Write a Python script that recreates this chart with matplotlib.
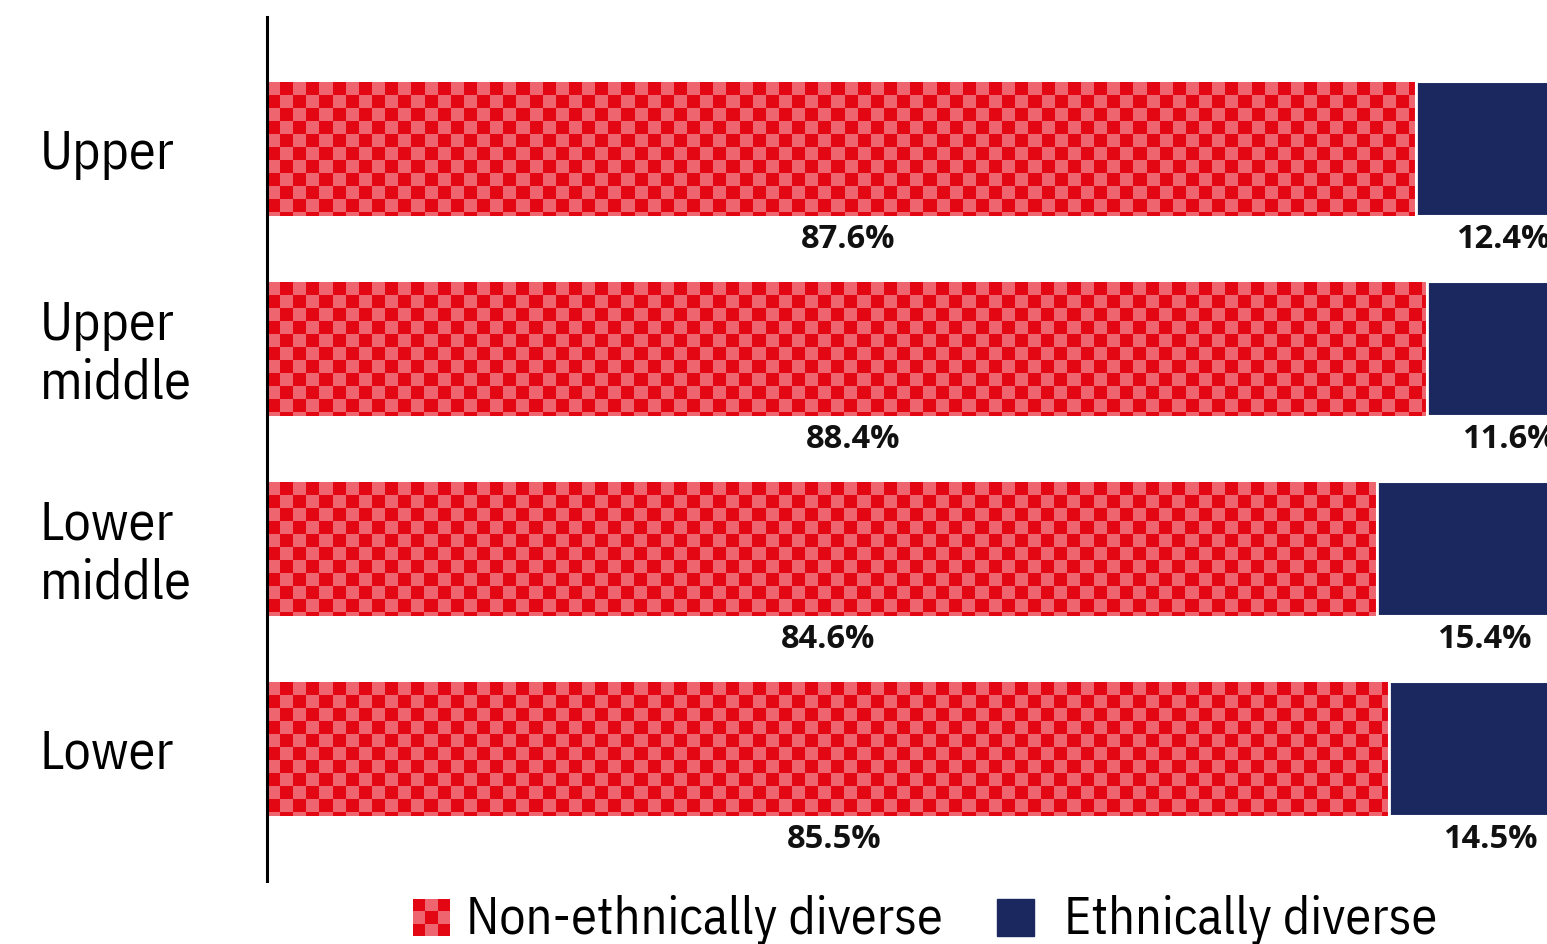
import numpy as np
import matplotlib
matplotlib.use("Agg")
import matplotlib.pyplot as plt
from matplotlib import font_manager, transforms
from matplotlib.colors import ListedColormap
from matplotlib.patches import Rectangle

categories = ["Upper", "Upper\nmiddle", "Lower\nmiddle", "Lower"]
non_diverse = [87.6, 88.4, 84.6, 85.5]
diverse = [12.4, 11.6, 15.4, 14.5]
legend_labels = ["Non-ethnically diverse", "Ethnically diverse"]

DARK_RED = "#E30613"
LIGHT_RED = "#EE6570"
NAVY = "#1B2860"

names = {f.name for f in font_manager.fontManager.ttflist}
REG = "IBM Plex Sans Condensed" if "IBM Plex Sans Condensed" in names else "Open Sans"
plt.rcParams["font.family"] = [REG, "DejaVu Sans"]
BOLD = ["Open Sans", "DejaVu Sans"]

W, H = 1547, 945
fig = plt.figure(figsize=(W / 100, H / 100), dpi=100)
ax = fig.add_axes([267 / W, (H - 882) / H, (W - 267) / W, (882 - 18) / H])

XMAX = 1280 / 13.12
bar_h = 0.67
cell_y = 13 / 200.0
cmap = ListedColormap([LIGHT_RED, DARK_RED])

off = transforms.ScaledTranslation(6 / 100, 0, fig.dpi_scale_trans)
for i, (a, b) in enumerate(zip(non_diverse, diverse)):
    top = i - bar_h / 2
    rect = Rectangle((0, top), a, bar_h, facecolor=LIGHT_RED, edgecolor="none")
    ax.add_patch(rect)
    ncols = int(np.ceil(a)) + 1
    nrows = int(np.ceil(bar_h / cell_y)) + 1
    grid = (np.add.outer(np.arange(nrows), np.arange(ncols)) % 2).astype(float)
    im = ax.imshow(grid, cmap=cmap, vmin=0, vmax=1, interpolation="nearest",
                   extent=(0, ncols, top + nrows * cell_y, top), origin="upper",
                   aspect="auto", zorder=2)
    im.set_clip_path(rect)
    ax.barh(i, b, left=a, height=bar_h, color=NAVY, edgecolor="white",
            linewidth=1.5, zorder=3)
    ax.plot([a, a], [top, top + bar_h], color="white", lw=2, zorder=4)
    for cx, v in ((a / 2, a), (a + b / 2, b)):
        ax.text(cx, i + bar_h / 2 + 0.115, f"{v:.1f}%", ha="center", va="center",
                fontsize=23.5, fontweight="bold", color="#111111", family=BOLD,
                transform=ax.transData + off, clip_on=False)

ax.set_xlim(0, XMAX)
ax.set_ylim(3.66, -0.66)
for s in ("top", "right", "bottom"):
    ax.spines[s].set_visible(False)
ax.spines["left"].set_linewidth(2.2)
ax.spines["left"].set_color("black")
ax.set_xticks([])
ax.set_yticks([])

btr = transforms.blended_transform_factory(fig.transFigure, ax.transData)
for i, c in enumerate(categories):
    fig.text(40 / W, i + 0.02, c, transform=btr, ha="left", va="center", fontsize=39,
             color="black", linespacing=1.17)

# legend
sw = fig.add_axes([413 / W, (H - 937) / H, 37 / W, 37 / H])
sw.imshow(((np.add.outer(np.arange(3), np.arange(3)) + 1) % 2).astype(float),
          cmap=cmap, vmin=0, vmax=1, interpolation="nearest", aspect="auto")
sw.axis("off")
fig.patches.append(Rectangle((997 / W, (H - 937) / H), 37 / W, 37 / H,
                             transform=fig.transFigure, color=NAVY))
fig.text(466 / W, (H - 920) / H, legend_labels[0], ha="left", va="center",
         fontsize=37.5, color="black")
fig.text(1064 / W, (H - 920) / H, legend_labels[1], ha="left", va="center",
         fontsize=37.5, color="black")

fig.savefig("out.png", dpi=100)
